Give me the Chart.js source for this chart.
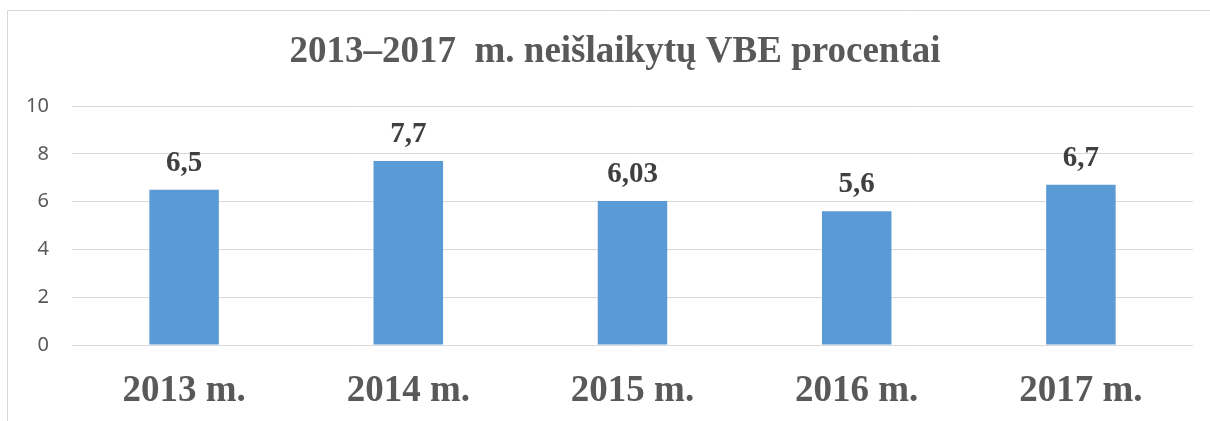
<!DOCTYPE html>
<html>
<head>
<meta charset="utf-8">
<script src="https://cdn.jsdelivr.net/npm/chart.js@4"></script>
<style>
  html, body { margin: 0; padding: 0; background: #fff; }
  #wrap { width: 1210px; height: 421px; position: relative; }
</style>
</head>
<body>
<div id="wrap"><canvas id="vbe-chart"></canvas></div>
<script>
var years = ["2013 m.", "2014 m.", "2015 m.", "2016 m.", "2017 m."];
var failedPct = [6.5, 7.7, 6.03, 5.6, 6.7];
var valueLabels = ["6,5", "7,7", "6,03", "5,6", "6,7"];
var yTicks = [0, 2, 4, 6, 8, 10];
var chartTitle = "2013\u20132017  m. neišlaikytų VBE procentai";

var serif = "'Liberation Serif', 'Times New Roman', serif";

// chart box frame (left + top) and the title, centred on the box
var frame = {
  id: 'frame',
  beforeDraw: function(chart) {
    var ctx = chart.ctx;
    ctx.save();
    ctx.strokeStyle = '#d9d9d9';
    ctx.lineWidth = 1;
    ctx.beginPath();
    ctx.moveTo(7.5, chart.height);
    ctx.lineTo(7.5, 10.5);
    ctx.lineTo(chart.width, 10.5);
    ctx.stroke();

    ctx.font = "bold 37px " + serif;
    ctx.fillStyle = '#595959';
    ctx.textAlign = 'center';
    ctx.textBaseline = 'middle';
    ctx.fillText(chartTitle, 615, 52);
    ctx.restore();
  }
};

// values above bars
var barValues = {
  id: 'barValues',
  afterDatasetsDraw: function(chart) {
    var ctx = chart.ctx;
    var meta = chart.getDatasetMeta(0);
    ctx.save();
    ctx.font = "bold 29px " + serif;
    ctx.fillStyle = '#404040';
    ctx.textAlign = 'center';
    ctx.textBaseline = 'alphabetic';
    meta.data.forEach(function(bar, i) {
      ctx.fillText(valueLabels[i], bar.x, bar.y - 19);
    });
    ctx.restore();
  }
};

new Chart(document.getElementById("vbe-chart"), {
  type: 'bar',
  data: {
    labels: years,
    datasets: [{
      data: failedPct,
      backgroundColor: '#5b9bd5',
      borderWidth: 0,
      categoryPercentage: 1,
      barPercentage: 0.31
    }]
  },
  options: {
    responsive: true,
    maintainAspectRatio: false,
    animation: false,
    layout: { padding: { left: 0, right: 17, top: 106, bottom: 0 } },
    plugins: {
      legend: { display: false },
      tooltip: { enabled: false },
      title: { display: false }
    },
    scales: {
      x: {
        grid: { display: false },
        border: { display: false },
        ticks: {
          color: '#595959',
          font: { family: serif, size: 37, weight: 'bold' },
          padding: 16
        },
        afterFit: function(scale) { scale.height = 76; }
      },
      y: {
        min: 0,
        max: 10,
        afterBuildTicks: function(scale) {
          scale.ticks = yTicks.map(function(v) { return { value: v }; });
        },
        grid: { color: '#d9d9d9', lineWidth: 1, drawTicks: false },
        border: { display: false },
        ticks: {
          color: '#595959',
          font: { family: "'Noto Sans', 'Open Sans', sans-serif", size: 20 },
          padding: 23
        },
        afterFit: function(scale) { scale.width = 72; }
      }
    }
  },
  plugins: [frame, barValues]
});
</script>
</body>
</html>
